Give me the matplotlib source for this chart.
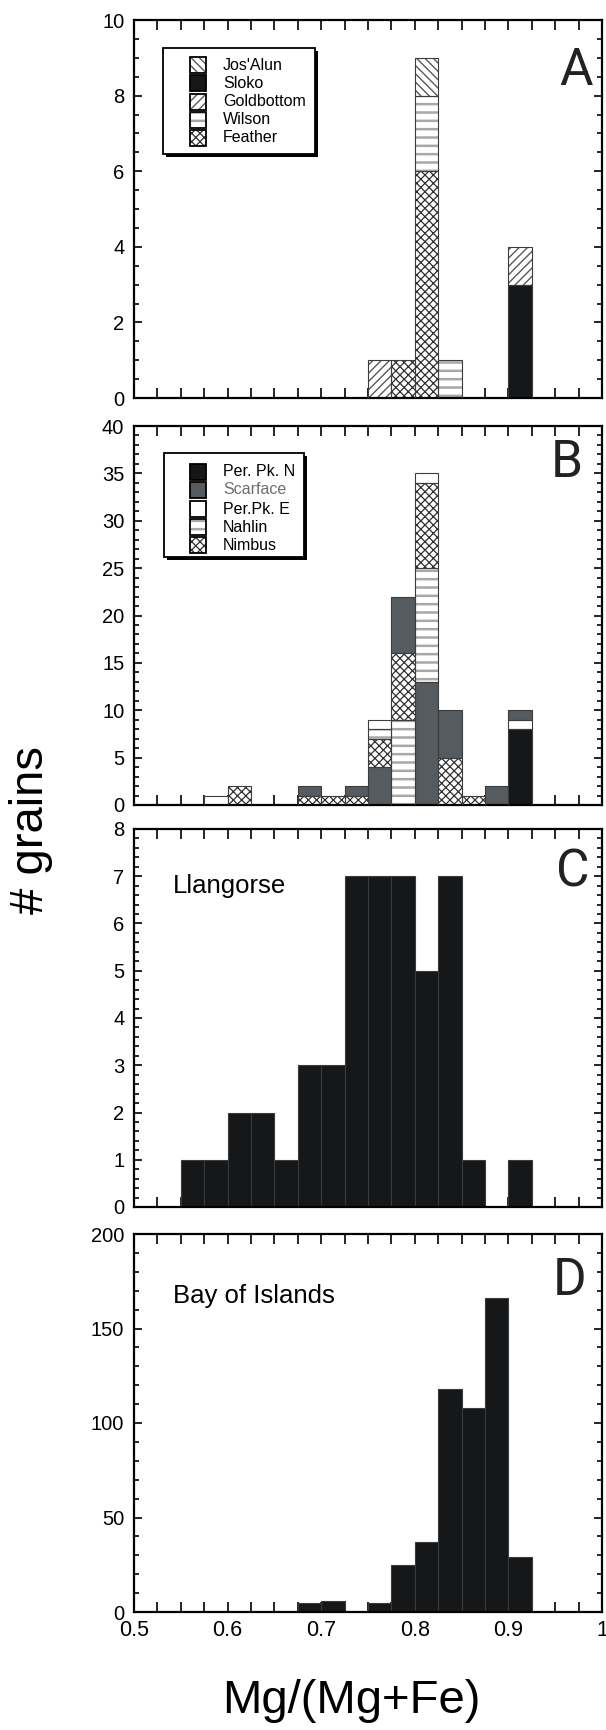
import matplotlib
matplotlib.use("Agg")
import matplotlib.pyplot as plt
from matplotlib.patches import Rectangle
from matplotlib.ticker import MultipleLocator, FormatStrFormatter

plt.rcParams['font.family'] = ['Liberation Sans', 'DejaVu Sans']

# ---------------- data ----------------
BIN_WIDTH = 0.025

# Panel A: stacked segments (bin left edge, series, count), listed bottom-to-top per bin
a_bins = [0.75, 0.775, 0.80, 0.80, 0.80, 0.825, 0.90, 0.90]
a_series = ["Goldbottom", "Feather", "Feather", "Wilson", "Jos'Alun", "Wilson", "Sloko", "Goldbottom"]
a_counts = [1, 1, 6, 2, 1, 1, 3, 1]
a_legend = ["Jos'Alun", "Sloko", "Goldbottom", "Wilson", "Feather"]

# Panel B
b_bins = [0.575, 0.60, 0.675, 0.675, 0.70, 0.725, 0.725,
          0.75, 0.75, 0.75, 0.75,
          0.775, 0.775, 0.775,
          0.80, 0.80, 0.80, 0.80,
          0.825, 0.825, 0.85, 0.875,
          0.90, 0.90, 0.90]
b_series = ["Per.Pk. E", "Nimbus", "Nimbus", "Scarface", "Nimbus", "Nimbus", "Scarface",
            "Scarface", "Nimbus", "Nahlin", "Per.Pk. E",
            "Nahlin", "Nimbus", "Scarface",
            "Scarface", "Nahlin", "Nimbus", "Per.Pk. E",
            "Nimbus", "Scarface", "Nimbus", "Scarface",
            "Per. Pk. N", "Per.Pk. E", "Scarface"]
b_counts = [1, 2, 1, 1, 1, 1, 1,
            4, 3, 1, 1,
            9, 7, 6,
            13, 12, 9, 1,
            5, 5, 1, 2,
            8, 1, 1]
b_legend = ["Per. Pk. N", "Scarface", "Per.Pk. E", "Nahlin", "Nimbus"]

# Panel C: Llangorse
c_bins = [0.55, 0.575, 0.60, 0.625, 0.65, 0.675, 0.70, 0.725, 0.75, 0.775, 0.80, 0.825, 0.85, 0.90]
c_counts = [1, 1, 2, 2, 1, 3, 3, 7, 7, 7, 5, 7, 1, 1]

# Panel D: Bay of Islands
d_bins = [0.675, 0.70, 0.75, 0.775, 0.80, 0.825, 0.85, 0.875, 0.90]
d_counts = [5, 6, 5, 25, 37, 118, 108, 166, 29]

panel_letters = ["A", "B", "C", "D"]
y_limits = [(0, 10), (0, 40), (0, 8), (0, 200)]
y_major = [2, 5, 1, 50]
y_minor = [0.5, 1, 0.2, 10]

# ---------------- styles ----------------
BLACK = "#161718"
GRAY = "#555b5e"
EDGE = "#3c3c3c"
STYLE = {
    "Jos'Alun": dict(fc="white", hatch="\\\\\\\\", hc="#5a5a5a", hlw=1.0),
    "Sloko": dict(fc=BLACK, hatch=None, hc=BLACK, hlw=1.0),
    "Goldbottom": dict(fc="white", hatch="////", hc="#5a5a5a", hlw=1.0),
    "Wilson": dict(fc="white", hatch="--", hc="#a8a8a8", hlw=1.8),
    "Feather": dict(fc="white", hatch="xxxx", hc="#303030", hlw=0.9),
    "Per. Pk. N": dict(fc=BLACK, hatch=None, hc=BLACK, hlw=1.0),
    "Scarface": dict(fc=GRAY, hatch=None, hc=GRAY, hlw=1.0),
    "Per.Pk. E": dict(fc="white", hatch=None, hc="white", hlw=1.0),
    "Nahlin": dict(fc="white", hatch="--", hc="#a8a8a8", hlw=1.8),
    "Nimbus": dict(fc="white", hatch="xxxx", hc="#303030", hlw=0.9),
}

W, H = 606, 1730
fig = plt.figure(figsize=(W / 100, H / 100), dpi=100)

AX_LEFT, AX_RIGHT = 134, 602
tops = [20, 426, 829, 1234]
bottoms = [398, 805, 1207, 1612]

axes = []
for t, b in zip(tops, bottoms):
    axes.append(fig.add_axes([AX_LEFT / W, 1 - b / H, (AX_RIGHT - AX_LEFT) / W, (b - t) / H]))


def draw_stack(ax, bins, series, counts):
    level = {}
    for x, s, c in zip(bins, series, counts):
        base = level.get(x, 0)
        st = STYLE[s]
        with plt.rc_context({"hatch.linewidth": st["hlw"]}):
            ax.bar(x, c, width=BIN_WIDTH, bottom=base, align="edge", color=st["fc"],
                   edgecolor=st["hc"], linewidth=0, hatch=st["hatch"], zorder=2)
        ax.bar(x, c, width=BIN_WIDTH, bottom=base, align="edge", fill=False,
               edgecolor=EDGE, linewidth=0.8, zorder=3)
        level[x] = base + c


def draw_simple(ax, bins, counts):
    ax.bar(bins, counts, width=BIN_WIDTH, align="edge", color=BLACK,
           edgecolor="#3a3b3c", linewidth=0.8, zorder=2)


draw_stack(axes[0], a_bins, a_series, a_counts)
draw_stack(axes[1], b_bins, b_series, b_counts)
draw_simple(axes[2], c_bins, c_counts)
draw_simple(axes[3], d_bins, d_counts)

for i, ax in enumerate(axes):
    ax.set_xlim(0.5, 1.0)
    ax.set_ylim(*y_limits[i])
    ax.xaxis.set_major_locator(MultipleLocator(0.1))
    ax.xaxis.set_minor_locator(MultipleLocator(0.025))
    ax.yaxis.set_major_locator(MultipleLocator(y_major[i]))
    ax.yaxis.set_minor_locator(MultipleLocator(y_minor[i]))
    ax.tick_params(which="both", direction="in", top=True, right=True, width=1.2, color="black")
    ax.tick_params(axis="x", which="both", length=7.5)
    ax.tick_params(axis="y", which="major", length=6, labelsize=14.5, pad=7)
    ax.tick_params(axis="y", which="minor", length=3.5)
    ax.tick_params(axis="x", which="major", labelsize=15.5, pad=6)
    for sp in ax.spines.values():
        sp.set_linewidth(1.6)
    ax.yaxis.set_major_formatter(FormatStrFormatter("%g"))
    ax.xaxis.set_major_formatter(FormatStrFormatter("%g"))
    if i < 3:
        ax.tick_params(axis="x", labelbottom=False)

# panel letters
letter_pos = [(0.981, 0.828), (0.959, 0.865), (0.973, 0.847), (0.966, 0.839)]
for ax, letter, (lx, ly) in zip(axes, panel_letters, letter_pos):
    ax.text(lx, ly, letter, transform=ax.transAxes, ha="right", va="baseline",
            fontsize=37, family=["Roboto", "DejaVu Sans"], fontweight="normal", color="#222222")

axes[2].text(0.083, 0.831, "Llangorse", transform=axes[2].transAxes, fontsize=18.5, va="baseline")
axes[3].text(0.083, 0.817, "Bay of Islands", transform=axes[3].transAxes, fontsize=18.5, va="baseline")


# ---------------- legends (drawn in figure pixels) ----------------
def fx(x):
    return x / W


def fy(y):
    return 1 - y / H


def draw_legend(box, rows_y, names, text_colors):
    x0, y0, x1, y1 = box
    fig.add_artist(Rectangle((fx(x0 + 3), fy(y1 + 3)), (x1 - x0) / W, (y1 - y0) / H,
                             transform=fig.transFigure, facecolor="black", edgecolor="black",
                             linewidth=0, zorder=4))
    fig.add_artist(Rectangle((fx(x0), fy(y1)), (x1 - x0) / W, (y1 - y0) / H,
                             transform=fig.transFigure, facecolor="white", edgecolor="black",
                             linewidth=1.3, zorder=5))
    for yc, name, tc in zip(rows_y, names, text_colors):
        st = STYLE[name]
        with plt.rc_context({"hatch.linewidth": st["hlw"]}):
            fig.add_artist(Rectangle((fx(190), fy(yc + 8)), 16 / W, 16 / H,
                                     transform=fig.transFigure, facecolor=st["fc"],
                                     edgecolor=st["hc"], linewidth=0, hatch=st["hatch"], zorder=6))
        fig.add_artist(Rectangle((fx(190), fy(yc + 8)), 16 / W, 16 / H,
                                 transform=fig.transFigure, fill=False,
                                 edgecolor="black", linewidth=1.3, zorder=7))
        fig.text(fx(223), fy(yc), name, fontsize=11.5, va="center", ha="left", color=tc, zorder=7)


draw_legend((163, 48, 315, 154), [65, 83, 102, 120, 138], a_legend, ["black"] * 5)
draw_legend((164, 453, 304, 557), [472, 490, 509, 527, 545], b_legend,
            ["black", "#6e6e6e", "black", "black", "black"])

# axis labels
fig.text(31 / W, fy(830), "# grains", rotation=90, ha="center", va="center", fontsize=34)
fig.text(351 / W, fy(1713), "Mg/(Mg+Fe)", ha="center", va="baseline", fontsize=34)

fig.savefig("out.png", dpi=100)
